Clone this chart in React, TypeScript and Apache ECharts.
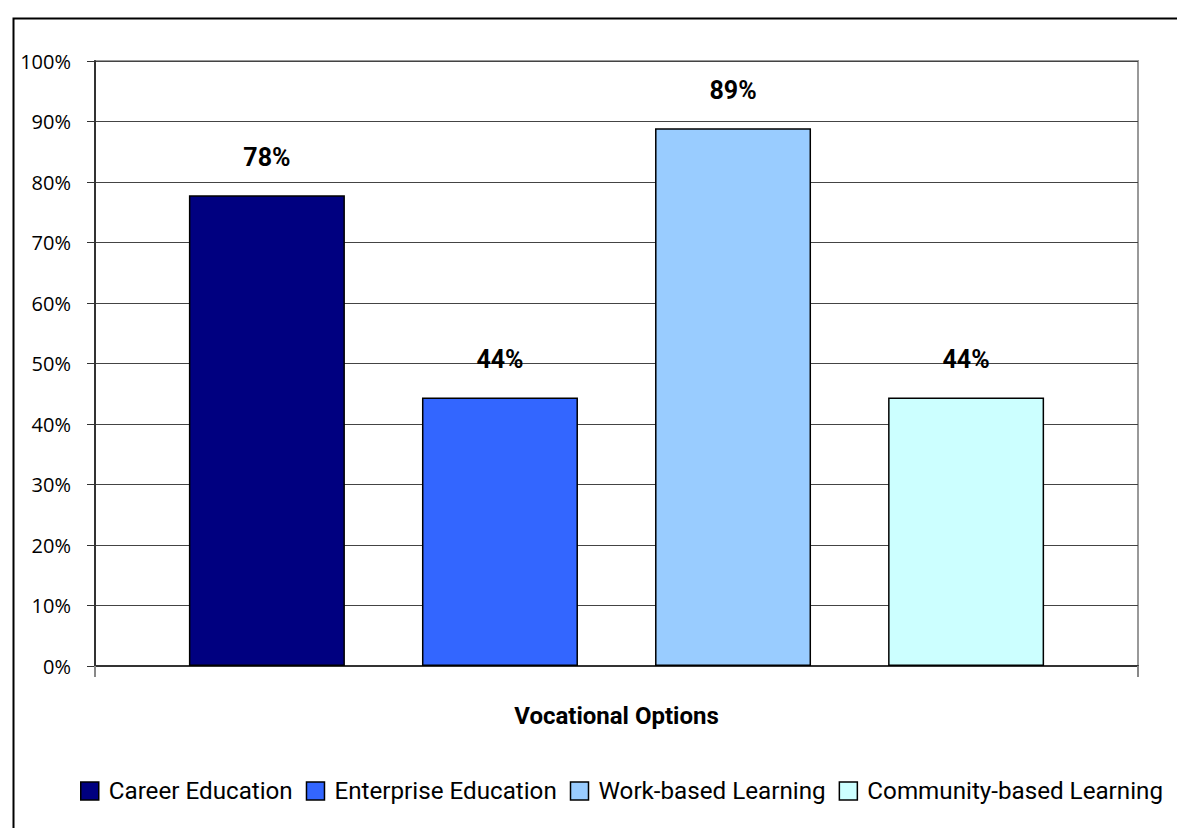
import React, { useEffect, useRef } from "react";
import * as echarts from "echarts";

const categories = ["Vocational Options"];
const seriesNames = ["Career Education", "Enterprise Education", "Work-based Learning", "Community-based Learning"];
const seriesValues = [77.8, 44.4, 88.9, 44.4];
const seriesColors = ["#000080", "#3366FF", "#99CCFF", "#CCFFFF"];
const yTicks = [0, 10, 20, 30, 40, 50, 60, 70, 80, 90, 100];

const NARROW = "Roboto, 'Liberation Sans', sans-serif";
const YFONT = "'Open Sans', 'Noto Sans', sans-serif";

export default function App() {
  const ref = useRef<HTMLDivElement>(null);
  useEffect(() => {
    if (!ref.current) return;
    const chart = echarts.init(ref.current, null, { renderer: "svg" });
    chart.setOption({
      animation: false,
      backgroundColor: "#ffffff",
      graphic: [
        {
          type: "rect",
          left: 11,
          top: 16,
          shape: { width: 1200, height: 900 },
          style: { fill: "none", stroke: "#000", lineWidth: 2 },
          silent: true,
          z: 100,
        },
      ],
      grid: {
        left: 95,
        top: 61,
        right: 39,
        bottom: 162,
        show: true,
        borderColor: "#999",
        borderWidth: 2,
        containLabel: false,
      },
      legend: {
        data: seriesNames,
        bottom: 25,
        left: 80,
        width: 1097,
        padding: 0,
        icon: "rect",
        itemWidth: 18,
        itemHeight: 18,
        itemGap: 13,
        itemStyle: { borderColor: "#000", borderWidth: 1.5 },
        textStyle: { fontFamily: NARROW, fontSize: 24.2, color: "#000", padding: [0, 0, 0, 5] },
      },
      xAxis: {
        type: "category",
        data: categories,
        name: "Vocational Options",
        nameLocation: "middle",
        nameGap: 38,
        nameTextStyle: { fontFamily: NARROW, fontSize: 24, fontWeight: "bold", color: "#000" },
        axisLine: { lineStyle: { color: "#333", width: 2 } },
        axisTick: { show: true, length: 11, lineStyle: { color: "#888", width: 2 } },
        axisLabel: { show: false },
      },
      yAxis: {
        type: "value",
        min: 0,
        max: 100,
        interval: 10,
        axisLine: { show: true, lineStyle: { color: "#333", width: 2 } },
        axisTick: { show: true, length: 8, lineStyle: { color: "#333", width: 1 } },
        axisLabel: {
          margin: 24,
          fontFamily: YFONT,
          fontSize: 20,
          color: "#000",
          formatter: (v: number) => (yTicks.includes(v) ? v + "%" : ""),
        },
        splitLine: { show: true, lineStyle: { color: "#444", width: 1 } },
      },
      series: seriesNames.map((name, i) => ({
        name,
        type: "bar",
        data: [seriesValues[i]],
        barWidth: 156,
        barGap: "49.4%",
        itemStyle: { color: seriesColors[i], borderColor: "#000", borderWidth: 1.5 },
        label: {
          show: true,
          position: "top",
          distance: 25,
          fontFamily: NARROW,
          fontSize: 25,
          fontWeight: "bold",
          color: "#000",
          formatter: (p: any) => Math.round(p.value) + "%",
        },
      })),
    });
    return () => chart.dispose();
  }, []);
  return <div ref={ref} style={{ position: "absolute", left: 0, top: 0, width: 1177, height: 828 }} />;
}
